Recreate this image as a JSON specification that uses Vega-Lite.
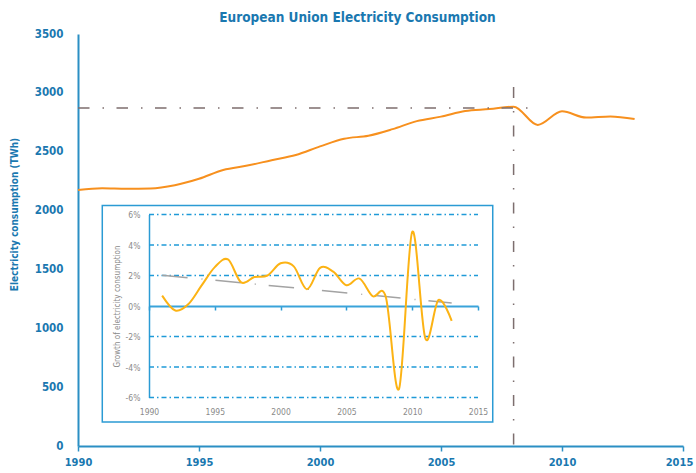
{
  "$schema": "https://vega.github.io/schema/vega-lite/v6.json",
  "width": 605,
  "height": 412,
  "autosize": {"type": "none"},
  "padding": {"left": 78, "top": 34, "right": 13, "bottom": 27},
  "background": "white",
  "title": {
    "text": "European Union Electricity Consumption",
    "font": "Liberation Sans Narrow, DejaVu Sans Condensed, Liberation Sans, sans-serif",
    "fontSize": 13.5,
    "fontWeight": "bold",
    "color": "#1a78b0",
    "anchor": "middle",
    "frame": "group",
    "dx": -23,
    "offset": 4
  },
  "config": {
    "view": {"stroke": null},
    "font": "Liberation Sans Narrow, DejaVu Sans Condensed, Liberation Sans, sans-serif",
    "axis": {"grid": false}
  },
  "datasets": {
    "consumption": [
      {"year": 1990, "twh": 2175},
      {"year": 1991, "twh": 2190},
      {"year": 1992, "twh": 2186},
      {"year": 1993, "twh": 2188},
      {"year": 1994, "twh": 2215},
      {"year": 1995, "twh": 2270},
      {"year": 1996, "twh": 2345},
      {"year": 1997, "twh": 2382},
      {"year": 1998, "twh": 2428},
      {"year": 1999, "twh": 2472},
      {"year": 2000, "twh": 2545},
      {"year": 2001, "twh": 2610},
      {"year": 2002, "twh": 2636},
      {"year": 2003, "twh": 2692},
      {"year": 2004, "twh": 2760},
      {"year": 2005, "twh": 2798},
      {"year": 2006, "twh": 2846},
      {"year": 2007, "twh": 2862},
      {"year": 2008, "twh": 2883},
      {"year": 2009, "twh": 2728},
      {"year": 2010, "twh": 2843},
      {"year": 2011, "twh": 2790},
      {"year": 2012, "twh": 2800},
      {"year": 2013, "twh": 2778}
    ],
    "growth": [
      {"year": 1991, "g": 0.68},
      {"year": 1992, "g": -0.3},
      {"year": 1993, "g": 0.13},
      {"year": 1994, "g": 1.35},
      {"year": 1995, "g": 2.55},
      {"year": 1996, "g": 3.05},
      {"year": 1997, "g": 1.55},
      {"year": 1998, "g": 1.9},
      {"year": 1999, "g": 2.0},
      {"year": 2000, "g": 2.8},
      {"year": 2001, "g": 2.6},
      {"year": 2002, "g": 1.1},
      {"year": 2003, "g": 2.5},
      {"year": 2004, "g": 2.25},
      {"year": 2005, "g": 1.36},
      {"year": 2006, "g": 1.8},
      {"year": 2007, "g": 0.64},
      {"year": 2008, "g": 0.57},
      {"year": 2009, "g": -5.43},
      {"year": 2010, "g": 4.86},
      {"year": 2011, "g": -2.13},
      {"year": 2012, "g": 0.4},
      {"year": 2013, "g": -0.97}
    ],
    "trend": [
      {"year": 1991, "g": 2.02},
      {"year": 2013, "g": 0.2}
    ],
    "gridlevels": [
      {"level": -6}, {"level": -4}, {"level": -2}, {"level": 2}, {"level": 4}, {"level": 6}
    ]
  },
  "layer": [
    {
      "layer": [
        {
          "data": {"name": "consumption"},
          "mark": {"type": "line", "color": "#f7901e", "strokeWidth": 2, "interpolate": "monotone"},
          "encoding": {
            "x": {
              "field": "year", "type": "quantitative",
              "scale": {"domain": [1990, 2015], "nice": false, "zero": false},
              "axis": {
                "orient": "bottom",
                "title": null,
                "values": [1990, 1995, 2000, 2005, 2010, 2015],
                "format": "d",
                "labelFlush": false,
                "labelOffset": {"condition": {"test": "datum.value == 2015", "value": -4}, "value": 0},
                "domainColor": "#2b8fc4", "domainWidth": 2,
                "tickColor": "#2b8fc4", "tickWidth": 1.5, "tickSize": 5,
                "labelFontSize": 11, "labelFontWeight": "bold", "labelColor": "#1a78b0",
                "labelPadding": 5
              }
            },
            "y": {
              "field": "twh", "type": "quantitative",
              "scale": {"domain": [0, 3500], "nice": false},
              "axis": {
                "orient": "left",
                "title": "Electricity consumption (TWh)",
                "titleFontSize": 10, "titleFontWeight": "bold", "titleColor": "#1a78b0",
                "titleX": -64, "titleY": 180, "titleAngle": -90,
                "titleAlign": "center", "titleBaseline": "middle",
                "values": [0, 500, 1000, 1500, 2000, 2500, 3000, 3500],
                "format": "d",
                "ticks": false,
                "domainColor": "#2b8fc4", "domainWidth": 2,
                "labelFontSize": 11.5, "labelFontWeight": "bold", "labelColor": "#1a78b0",
                "labelPadding": 15
              }
            }
          }
        },
        {
          "data": {"values": [{"year": 1990, "end": 2008.6, "twh": 2872}]},
          "mark": {"type": "rule", "color": "#7d6e6e", "strokeWidth": 1.5, "strokeDash": [11.5, 13, 1.5, 12.5]},
          "encoding": {
            "x": {"field": "year", "type": "quantitative"},
            "x2": {"field": "end"},
            "y": {"field": "twh", "type": "quantitative"}
          }
        },
        {
          "data": {"values": [{"year": 2008, "low": 0, "twh": 3050}]},
          "mark": {"type": "rule", "color": "#7d6e6e", "strokeWidth": 1.5, "strokeDash": [11, 13, 1.5, 13]},
          "encoding": {
            "x": {"field": "year", "type": "quantitative"},
            "y": {"field": "twh", "type": "quantitative"},
            "y2": {"field": "low"}
          }
        }
      ]
    },
    {
      "layer": [
        {
          "data": {"values": [{"year": 1986.45, "x1": 2016.12, "g": -7.61, "y1": 6.59}]},
          "mark": {"type": "rect", "fill": "transparent", "stroke": "#2b9bd4", "strokeWidth": 1.5},
          "encoding": {
            "x": {
              "field": "year", "type": "quantitative",
              "scale": {"domain": [1990, 2015], "range": [71, 400], "nice": false, "zero": false},
              "axis": {
                "orient": "bottom",
                "offset": -140,
                "title": null,
                "values": [1990, 1995, 2000, 2005, 2010, 2015],
                "format": "d",
                "labelFlush": false,
                "domainColor": "#3aa3da", "domainWidth": 2,
                "tickColor": "#2b9bd4", "tickWidth": 1.5, "tickSize": 4,
                "labelFontSize": 8.5, "labelColor": "#8a8a8a", "labelFontWeight": "normal",
                "labelPadding": 97
              }
            },
            "x2": {"field": "x1"},
            "y": {
              "field": "g", "type": "quantitative",
              "scale": {"domain": [-6, 6], "range": [363.5, 180.5], "nice": false, "zero": false},
              "axis": {
                "orient": "left",
                "offset": -71,
                "title": "Growth of electricity consumption",
                "titleFontSize": 8, "titleFontWeight": "normal", "titleColor": "#8a8a8a",
                "titlePadding": 4,
                "values": [-6, -4, -2, 0, 2, 4, 6],
                "labelExpr": "datum.value + '%'",
                "ticks": false,
                "domainColor": "#2b9bd4", "domainWidth": 1.5,
                "labelFontSize": 8.5, "labelColor": "#8a8a8a", "labelFontWeight": "normal",
                "labelPadding": 9
              }
            },
            "y2": {"field": "y1"}
          }
        },
        {
          "data": {"name": "gridlevels"},
          "mark": {"type": "rule", "color": "#1f9ad8", "strokeWidth": 1.5, "strokeDash": [5, 3, 1.5, 3]},
          "encoding": {
            "x": {"datum": 1990, "type": "quantitative"},
            "x2": {"datum": 2015},
            "y": {"field": "level", "type": "quantitative"}
          }
        },
        {
          "data": {"name": "trend"},
          "mark": {"type": "line", "color": "#a3a3a3", "strokeWidth": 1.5, "strokeDash": [25.5, 14, 1, 13]},
          "encoding": {
            "x": {"field": "year", "type": "quantitative"},
            "y": {"field": "g", "type": "quantitative"}
          }
        },
        {
          "data": {"name": "growth"},
          "mark": {"type": "line", "color": "#fcb314", "strokeWidth": 2, "interpolate": "cardinal"},
          "encoding": {
            "x": {"field": "year", "type": "quantitative"},
            "y": {"field": "g", "type": "quantitative"}
          }
        }
      ]
    }
  ],
  "resolve": {
    "scale": {"x": "independent", "y": "independent"},
    "axis": {"x": "independent", "y": "independent"}
  }
}
